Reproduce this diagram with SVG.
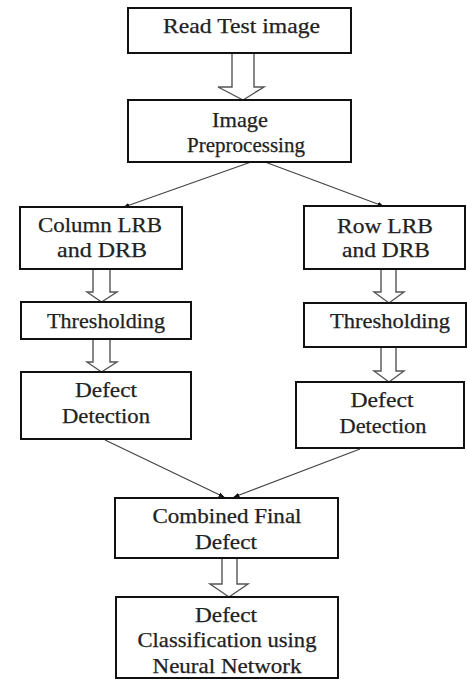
<svg xmlns="http://www.w3.org/2000/svg" width="467" height="691" viewBox="0 0 467 691">
  <defs>
    <marker id="dot-head" viewBox="0 0 10 10" refX="9" refY="5" markerWidth="6" markerHeight="6" orient="auto" markerUnits="userSpaceOnUse">
      <path d="M0,1 L10,5 L0,9 z" fill="#111"/>
    </marker>
    <style>
      .box { fill: #fff; stroke: #111; stroke-width: 2; }
      .link { stroke: #444; stroke-width: 1.2; fill: none; }
      .hollow { fill: #fff; stroke: #555; stroke-width: 1.4; stroke-linejoin: miter; }
      .lbl { stroke: #222; stroke-width: 0.25; }
    </style>
  </defs>
  <rect width="467" height="691" fill="#fff"/>

  <!-- connectors -->
  <g id="connectors">
    <path class="hollow" d="M232,53 V87 H218 L243,100 L264,87 H254 V53"/>
    <line class="link" x1="251" y1="162" x2="124" y2="207" marker-end="url(#dot-head)"/>
    <line class="link" x1="265" y1="162" x2="383" y2="206" marker-end="url(#dot-head)"/>
    <path class="hollow" d="M93,269 V292 H87 L101.5,302 L117,292 H110 V269"/>
    <path class="hollow" d="M93,339 V362 H87 L101.5,372 L117,362 H110 V339"/>
    <path class="hollow" d="M381,269 V292 H374 L389,303 L404,292 H396 V269"/>
    <path class="hollow" d="M381,347 V371 H374 L389,382 L404,371 H396 V347"/>
    <line class="link" x1="105" y1="440" x2="224" y2="497" marker-end="url(#dot-head)"/>
    <line class="link" x1="360" y1="449" x2="234" y2="497" marker-end="url(#dot-head)"/>
    <path class="hollow" d="M222,558 V584 H210 L229,597 L248,584 H237 V558"/>
  </g>

  <g font-family="Liberation Serif, Times New Roman, serif" font-size="21" fill="#222" text-anchor="middle">
    <g id="read-test-image">
      <rect class="box" x="128" y="8" width="223" height="45"/>
      <text class="lbl" x="241.5" y="33" textLength="157" lengthAdjust="spacingAndGlyphs">Read Test image</text>
    </g>

    <g id="image-preprocessing">
      <rect class="box" x="128" y="100" width="223" height="62"/>
      <text class="lbl" x="240" y="127" textLength="56" lengthAdjust="spacingAndGlyphs">Image</text>
      <text class="lbl" x="246" y="152">Preprocessing</text>
    </g>

    <g id="column-lrb-drb">
      <rect class="box" x="20" y="207" width="162" height="62"/>
      <text class="lbl" x="100" y="232" textLength="124" lengthAdjust="spacingAndGlyphs">Column LRB</text>
      <text class="lbl" x="102" y="257" textLength="90" lengthAdjust="spacingAndGlyphs">and DRB</text>
    </g>

    <g id="row-lrb-drb">
      <rect class="box" x="304" y="206" width="161" height="63"/>
      <text class="lbl" x="385" y="233" textLength="96" lengthAdjust="spacingAndGlyphs">Row LRB</text>
      <text class="lbl" x="386" y="257" textLength="88" lengthAdjust="spacingAndGlyphs">and DRB</text>
    </g>

    <g id="thresholding-left">
      <rect class="box" x="21" y="302" width="170" height="37"/>
      <text class="lbl" x="106" y="328" textLength="118" lengthAdjust="spacingAndGlyphs">Thresholding</text>
    </g>

    <g id="thresholding-right">
      <rect class="box" x="304" y="303" width="162" height="44"/>
      <text class="lbl" x="390" y="328" textLength="120" lengthAdjust="spacingAndGlyphs">Thresholding</text>
    </g>

    <g id="defect-detection-left">
      <rect class="box" x="21" y="372" width="170" height="67"/>
      <text class="lbl" x="106" y="397" textLength="62" lengthAdjust="spacingAndGlyphs">Defect</text>
      <text class="lbl" x="106" y="423" textLength="88" lengthAdjust="spacingAndGlyphs">Detection</text>
    </g>

    <g id="defect-detection-right">
      <rect class="box" x="296" y="382" width="168" height="66"/>
      <text class="lbl" x="382" y="407" textLength="63" lengthAdjust="spacingAndGlyphs">Defect</text>
      <text class="lbl" x="383" y="433" textLength="87" lengthAdjust="spacingAndGlyphs">Detection</text>
    </g>

    <g id="combined-final-defect">
      <rect class="box" x="115" y="498" width="223" height="60"/>
      <text class="lbl" x="227" y="523" textLength="149" lengthAdjust="spacingAndGlyphs">Combined Final</text>
      <text class="lbl" x="226" y="549" textLength="62" lengthAdjust="spacingAndGlyphs">Defect</text>
    </g>

    <g id="defect-classification">
      <rect class="box" x="116" y="597" width="222" height="81"/>
      <text class="lbl" x="226" y="622" textLength="62" lengthAdjust="spacingAndGlyphs">Defect</text>
      <text class="lbl" x="227" y="647" textLength="179" lengthAdjust="spacingAndGlyphs">Classification using</text>
      <text class="lbl" x="227" y="673" textLength="149" lengthAdjust="spacingAndGlyphs">Neural Network</text>
    </g>
  </g>
</svg>
